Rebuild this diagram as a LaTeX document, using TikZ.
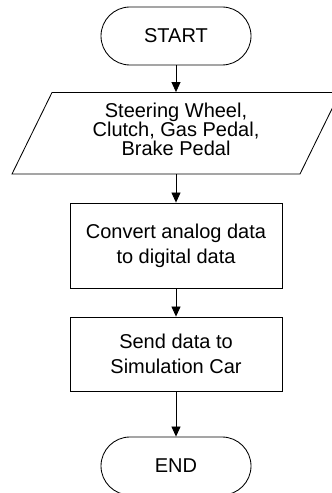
\documentclass[tikz,border=0pt]{standalone}
\usepackage{fontspec}
\setmainfont{Liberation Sans}
\usetikzlibrary{arrows.meta}
\begin{document}
\begin{tikzpicture}[x=1pt,y=1pt,
  line width=0.85pt,
  txt/.style={font=\fontsize{20}{25}\selectfont, align=center, inner sep=0pt},
  term/.style={draw, rounded corners=29pt, minimum width=150pt, minimum height=58pt, txt},
  procbox/.style={draw, minimum width=212pt, txt},
  flow/.style={-{Triangle[length=10pt,width=9pt]}}
]
\useasboundingbox (0,0) rectangle (332,493);
\clip (0,0) rectangle (332,493);
\fill[white] (0,0) rectangle (332,493);
% START
\node[term] (start) at (176,457) {START};
% input parallelogram
\node[minimum width=288pt, minimum height=81.5pt, inner sep=0pt] (inp) at (176,359.75) {};
\draw (52,400.5) -- (340,400.5) -- (300,319) -- (12,319) -- cycle;
\node[txt, font=\fontsize{20}{18.5}\selectfont] (inptext) at (176,364) {Steering Wheel,\\Clutch, Gas Pedal,\\Brake Pedal};
% process boxes
\node[procbox, minimum height=85pt] (conv) at (176,247.5) {Convert analog data\\to digital data};
\node[procbox, minimum height=74pt] (send) at (176,139) {Send data to\\Simulation Car};
% END
\node[term] (end) at (176,27) {END};
% connectors
\draw[flow] (start.south) -- (inp.north);
\draw[flow] (inp.south) -- (conv.north);
\draw[flow] (conv.south) -- (send.north);
\draw[flow] (send.south) -- (end.north);
\end{tikzpicture}
\end{document}
